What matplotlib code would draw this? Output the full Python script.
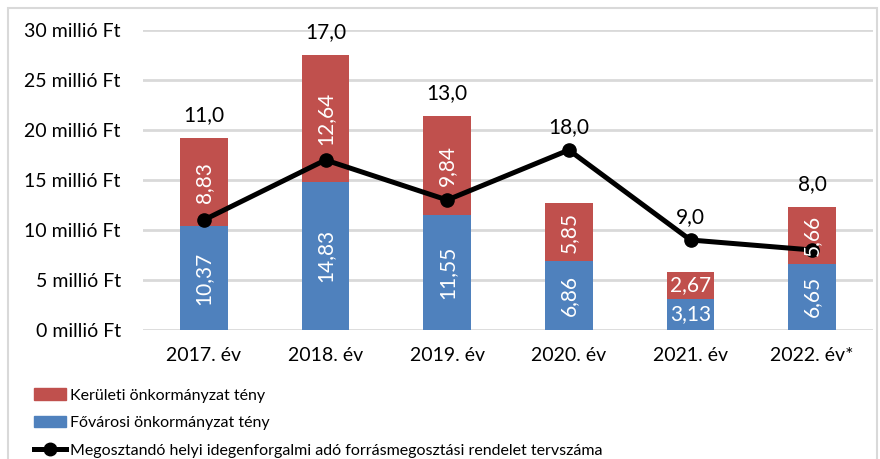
import matplotlib
matplotlib.use("Agg")
import matplotlib.pyplot as plt
from matplotlib.patches import Rectangle
from matplotlib.lines import Line2D
from matplotlib.patches import Patch

categories = ["2017. év", "2018. év", "2019. év", "2020. év", "2021. év", "2022. év*"]
fovarosi = [10.37, 14.83, 11.55, 6.86, 3.13, 6.65]
keruleti = [8.83, 12.64, 9.84, 5.85, 2.67, 5.66]
tervszam = [11.0, 17.0, 13.0, 18.0, 9.0, 8.0]
yticks = [0, 5, 10, 15, 20, 25, 30]
ytick_labels = [f"{v} millió Ft" for v in yticks]

series_names = ["Kerületi önkormányzat tény", "Fővárosi önkormányzat tény",
                "Megosztandó helyi idegenforgalmi adó forrásmegosztási rendelet tervszáma"]

RED = "#C0504D"
BLUE = "#4F81BD"
GRID = "#D9D9D9"

plt.rcParams['font.family'] = ['Lato', 'DejaVu Sans']

def fmt(v, d=2):
    return f"{v:.{d}f}".replace(".", ",")

fig = plt.figure(figsize=(8.8, 4.59), dpi=100)
ax = fig.add_axes([143/880, 1-330/459, (873-143)/880, 300/459])

x = list(range(len(categories)))
w = 0.39
ax.bar(x, fovarosi, width=w, color=BLUE, zorder=2)
ax.bar(x, keruleti, width=w, bottom=fovarosi, color=RED, zorder=2)
ax.plot(x, tervszam, color="black", lw=3.6, marker="o", ms=9.5, zorder=3)

for i in x:
    b, r = fovarosi[i], keruleti[i]
    rot = 0 if r < 4 else 90
    ax.text(i, b/2, fmt(b), color="white", ha="center", va="center",
            rotation=rot, fontsize=15, zorder=4)
    ax.text(i, b + r/2, fmt(r), color="white", ha="center", va="center",
            rotation=rot, fontsize=15, zorder=4)
    top = max(b + r, tervszam[i])
    ax.annotate(fmt(tervszam[i], 1), (i, top), xytext=(0, 9.5), textcoords="offset points",
                ha="center", va="bottom", fontsize=15, color="black", zorder=5)

ax.set_xlim(-0.5, len(categories) - 0.5)
ax.set_ylim(0, 30)
ax.set_yticks(yticks)
ax.set_yticklabels(ytick_labels, fontsize=14)
ax.set_xticks(x)
ax.set_xticklabels(categories, fontsize=14)
ax.tick_params(axis="both", length=0)
ax.tick_params(axis="y", pad=16)
ax.tick_params(axis="x", pad=12)
ax.yaxis.grid(True, color=GRID, lw=2, zorder=0)
ax.set_axisbelow(True)
for s in ax.spines.values():
    s.set_visible(False)

handles = [Patch(color=RED), Patch(color=BLUE),
           Line2D([0], [0], color="black", lw=3.6, marker="o", ms=9)]
fig.legend(handles, series_names, loc="upper left", bbox_to_anchor=(28/880, 1-382/459),
           frameon=False, fontsize=11.5, handlelength=2.0, handleheight=0.7,
           handletextpad=0.25, labelspacing=0.85, borderaxespad=0)

fig.add_artist(Rectangle((8/880, -0.1), (877-8)/880, 1.1-8/459, transform=fig.transFigure,
                         fill=False, edgecolor=GRID, lw=1.5))

fig.savefig("out.png", dpi=100)
